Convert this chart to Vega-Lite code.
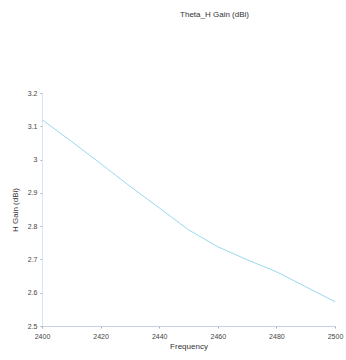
{
  "$schema": "https://vega.github.io/schema/vega-lite/v6.json",
  "width": 293,
  "height": 233,
  "autosize": {"type": "none"},
  "padding": {"left": 42, "top": 93, "right": 11, "bottom": 34},
  "background": "white",
  "title": {"text": "Theta_H Gain (dBi)", "fontSize": 8, "font": "Liberation Sans", "fontWeight": "normal", "color": "#333", "offset": 70, "dx": 26},
  "data": {"values": [
    {"f": 2400, "g": 3.12},
    {"f": 2410, "g": 3.055},
    {"f": 2420, "g": 2.988},
    {"f": 2430, "g": 2.92},
    {"f": 2440, "g": 2.855},
    {"f": 2450, "g": 2.789},
    {"f": 2460, "g": 2.738},
    {"f": 2470, "g": 2.699},
    {"f": 2480, "g": 2.663},
    {"f": 2490, "g": 2.618},
    {"f": 2500, "g": 2.573}
  ]},
  "mark": {"type": "line", "color": "#9ad9ec", "strokeWidth": 1},
  "encoding": {
    "x": {"field": "f", "type": "quantitative", "title": "Frequency",
      "scale": {"domain": [2400, 2500], "nice": false, "zero": false},
      "axis": {"values": [2400, 2420, 2440, 2460, 2480, 2500], "grid": false, "labelFlush": false, "domainColor": "#c8cde8", "tickColor": "#aaa", "tickSize": 2, "labelFontSize": 7, "labelFont": "Liberation Sans", "labelColor": "#444", "labelPadding": 4, "titleFontSize": 8, "titleFont": "Liberation Sans", "titleFontWeight": "normal", "titleColor": "#333", "titlePadding": 3, "format": "d"}},
    "y": {"field": "g", "type": "quantitative", "title": "H Gain (dBi)",
      "scale": {"domain": [2.5, 3.2], "nice": false, "zero": false},
      "axis": {"values": [2.5, 2.6, 2.7, 2.8, 2.9, 3, 3.1, 3.2], "format": ".1~f", "grid": false, "labelFlush": false, "domainColor": "#d8e6f4", "tickColor": "#aaa", "tickSize": 2, "labelFontSize": 7, "labelFont": "Liberation Sans", "labelColor": "#444", "labelPadding": 3, "titleFontSize": 8, "titleFont": "Liberation Sans", "titleFontWeight": "normal", "titleColor": "#333", "titlePadding": 8}}
  },
  "config": {"view": {"stroke": null}}
}
